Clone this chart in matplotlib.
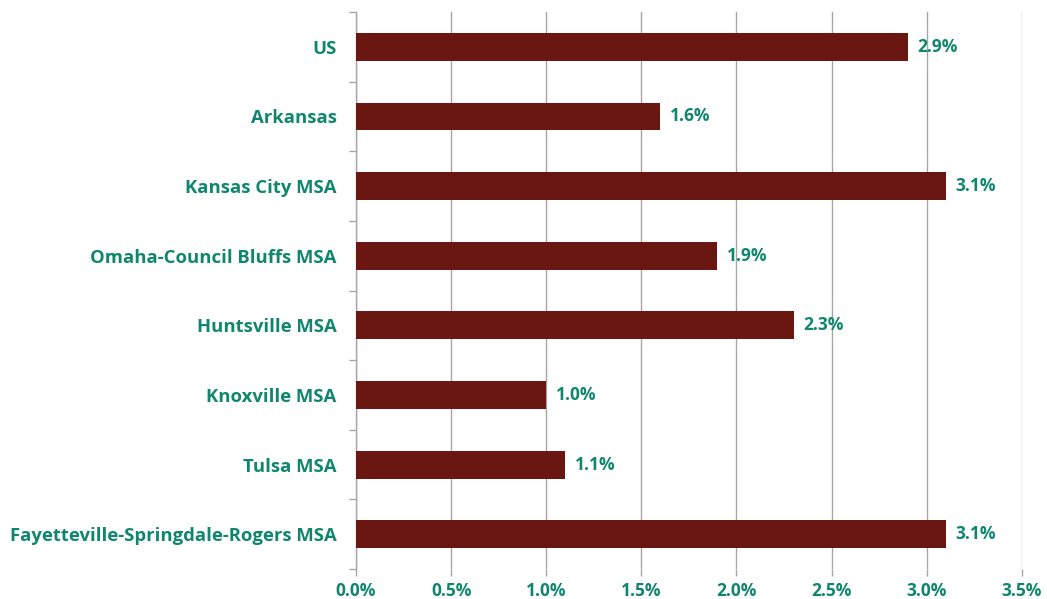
import numpy as np
import matplotlib.pyplot as plt
from matplotlib.ticker import FixedLocator, FuncFormatter

regions = ["US", "Arkansas", "Kansas City MSA", "Omaha-Council Bluffs MSA",
           "Huntsville MSA", "Knoxville MSA", "Tulsa MSA",
           "Fayetteville-Springdale-Rogers MSA"]
growth = [2.9, 1.6, 3.1, 1.9, 2.3, 1.0, 1.1, 3.1]

bar_color = "#6B1711"
text_color = "#10866E"
grid_color = "#A6A6A6"

plt.rcParams["font.family"] = ["Open Sans", "DejaVu Sans"]

fig = plt.figure(figsize=(10.47, 5.99), dpi=100)
ax = fig.add_axes([0.340, 0.050, 0.636, 0.930])

y = np.arange(len(regions))
ax.barh(y, growth, height=0.40, color=bar_color, zorder=3)
ax.set_ylim(len(regions) - 0.5, -0.5)
ax.set_xlim(0, 3.5)

for yi, v in zip(y, growth):
    ax.text(v + 0.05, yi, f"{v:.1f}%", va="center", ha="left",
            color=text_color, fontsize=12.5, fontweight="bold", zorder=4)

ax.set_yticks(y)
ax.set_yticklabels(regions)
ax.yaxis.set_minor_locator(FixedLocator(np.arange(-0.5, len(regions), 1)))
ax.tick_params(axis="y", which="major", length=0, pad=14,
               labelsize=13.3, labelcolor=text_color)
ax.tick_params(axis="y", which="minor", length=5, color=grid_color, width=1)
for lab in ax.get_yticklabels():
    lab.set_fontweight("bold")

ax.set_xticks(np.arange(0, 3.51, 0.5))
ax.xaxis.set_major_formatter(FuncFormatter(lambda v, p: f"{v:.1f}%"))
ax.tick_params(axis="x", length=5, color=grid_color, width=1, pad=4,
               labelsize=12.5, labelcolor=text_color)
for lab in ax.get_xticklabels():
    lab.set_fontweight("bold")

ax.grid(axis="x", color=grid_color, linewidth=1, zorder=0)
for s in ["top", "right", "bottom"]:
    ax.spines[s].set_visible(False)
ax.spines["left"].set_color(grid_color)
ax.spines["left"].set_linewidth(1)

fig.savefig("out.png", dpi=100)
